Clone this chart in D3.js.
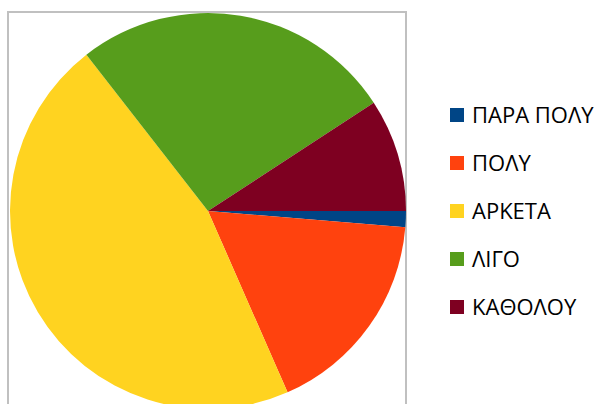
<!DOCTYPE html>
<meta charset="utf-8">
<head>
  <script src="https://d3js.org/d3.v7.min.js"></script>
  <style>
    body { margin: 0; background: #fff; font-family: "Open Sans", "Noto Sans", sans-serif; }
    .frame { fill: none; stroke: #c0c0c0; stroke-width: 2; }
    .legend text { font-size: 22px; fill: #000; }
  </style>
</head>
<body>
<script>
  // answers and counts
  var categories = ["ΠΑΡΑ ΠΟΛΥ", "ΠΟΛΥ", "ΑΡΚΕΤΑ", "ΛΙΓΟ", "ΚΑΘΟΛΟΥ"];
  var counts = [1, 13, 35, 20, 7];
  var colors = ["#004586", "#ff420e", "#ffd320", "#579d1c", "#7e0021"];

  var width = 600, height = 404;
  var cx = 208, cy = 211, radius = 198;

  var svg = d3.select("body").append("svg")
    .attr("width", width)
    .attr("height", height);

  // plot area border, runs off the bottom
  svg.append("rect")
    .attr("class", "frame")
    .attr("x", 8)
    .attr("y", 12)
    .attr("width", 398)
    .attr("height", 420);

  var color = d3.scaleOrdinal().domain(categories).range(colors);

  // slices start at 3 o'clock and go clockwise
  var pie = d3.pie()
    .sort(null)
    .startAngle(Math.PI / 2)
    .endAngle(Math.PI / 2 + 2 * Math.PI)
    .value(function(d, i) { return counts[i]; });

  var arc = d3.arc().innerRadius(0).outerRadius(radius);

  svg.append("g")
    .attr("transform", "translate(" + cx + "," + cy + ")")
    .selectAll("path")
    .data(pie(categories))
    .enter().append("path")
    .attr("d", arc)
    .attr("fill", function(d) { return color(d.data); });

  // legend
  var rows = d3.scalePoint().domain(categories).range([115, 307]);

  var legend = svg.append("g").attr("class", "legend");
  var item = legend.selectAll("g")
    .data(categories)
    .enter().append("g")
    .attr("transform", function(d) { return "translate(450," + rows(d) + ")"; });

  item.append("rect")
    .attr("x", 0)
    .attr("y", -7)
    .attr("width", 14)
    .attr("height", 14)
    .attr("fill", function(d) { return color(d); });

  item.append("text")
    .attr("x", 22)
    .attr("y", 8)
    .text(function(d) { return d; });
</script>
</body>
</html>
